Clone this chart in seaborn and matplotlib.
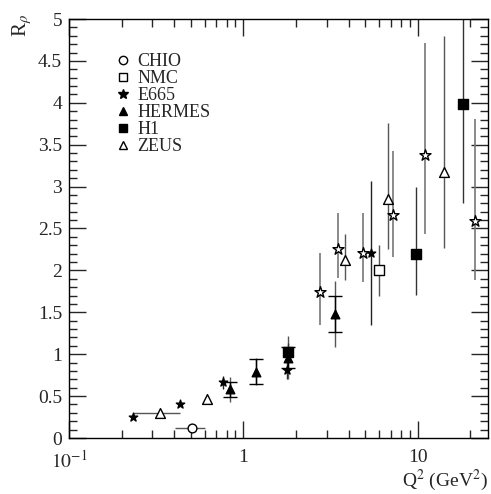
import numpy as np
import pandas as pd
import matplotlib
matplotlib.use("Agg")
import matplotlib.pyplot as plt
import seaborn as sns
from matplotlib.ticker import MultipleLocator, FixedLocator, NullFormatter, FuncFormatter
from matplotlib.lines import Line2D

# ---------------- data ----------------
chio_q2 = [0.505]
chio_r = [0.12]
chio_xlo = [0.405]
chio_xhi = [0.60]

nmc_q2 = [6.01]
nmc_r = [2.00]
nmc_err = [0.30]

e665_q2 = [0.232, 0.43, 0.766, 1.78, 5.39]
e665_r = [0.25, 0.405, 0.665, 0.81, 2.21]
e665_err = [0.0, 0.0, 0.08, 0.11, 0.86]

hermes_q2 = [0.835, 1.18, 1.80, 3.34]
hermes_r = [0.58, 0.79, 0.96, 1.48]
hermes_stat = [0.085, 0.15, 0.12, 0.22]
hermes_tot = [0.145, 0.16, 0.26, 0.39]

h1_q2 = [1.81, 9.74, 18.0]
h1_r = [1.03, 2.20, 3.99]
h1_up = [0.10, 0.79, 1.50]
h1_dn = [0.10, 0.49, 1.19]

zeus_q2 = [0.332, 0.62, 3.83, 6.77, 14.1]
zeus_r = [0.30, 0.46, 2.12, 2.85, 3.17]
zeus_up = [0.0, 0.0, 0.31, 0.91, 1.63]
zeus_dn = [0.0, 0.0, 0.23, 0.59, 0.90]
zeus_xlo = [0.232, 0.62, 3.83, 6.77, 14.1]
zeus_xhi = [0.43, 0.62, 3.83, 6.77, 14.1]

ostar_q2 = [2.75, 3.48, 4.81, 7.2, 10.96, 21.2]
ostar_r = [1.74, 2.25, 2.21, 2.66, 3.38, 2.59]
ostar_up = [0.47, 0.44, 0.48, 0.77, 1.33, 1.22]
ostar_dn = [0.39, 0.34, 0.35, 0.50, 0.94, 0.71]

legend_labels = ["CHIO", "NMC", "E665", "HERMES", "H1", "ZEUS"]
x_major = [0.1, 1, 10]
x_major_labels = [r"$10^{-1}$", "1", "10"]

# ---------------- style ----------------
sns.set_style("ticks")
plt.rcParams["font.family"] = ["Liberation Serif", "DejaVu Serif"]
plt.rcParams["mathtext.fontset"] = "stix"
plt.rcParams["xtick.direction"] = "in"
plt.rcParams["ytick.direction"] = "in"

fig = plt.figure(figsize=(4.91, 4.94), dpi=100)
ax = fig.add_axes([69 / 491, 56 / 494, 419 / 491, 419 / 494])

ecol = "#555555"
elw = 1.0

def arr(v):
    return np.asarray(v, dtype=float)

# error bars
ax.errorbar(chio_q2, chio_r,
            xerr=[arr(chio_q2) - arr(chio_xlo), arr(chio_xhi) - arr(chio_q2)],
            fmt="none", ecolor=ecol, elinewidth=elw, zorder=1)
ax.errorbar(nmc_q2, nmc_r, yerr=nmc_err, fmt="none", ecolor=ecol, elinewidth=elw, zorder=1)
ax.errorbar(e665_q2, e665_r, yerr=e665_err, fmt="none", ecolor="#222222", elinewidth=elw, zorder=1)
ax.errorbar(hermes_q2, hermes_r, yerr=hermes_tot, fmt="none", ecolor=ecol, elinewidth=elw, zorder=1)
ax.errorbar(hermes_q2, hermes_r, yerr=hermes_stat, fmt="none", ecolor="black",
            elinewidth=elw, capsize=5, capthick=1.0, zorder=1)
ax.errorbar(h1_q2, h1_r, yerr=[h1_dn, h1_up], fmt="none", ecolor="#333333", elinewidth=elw, zorder=1)
ax.errorbar(zeus_q2, zeus_r, yerr=[zeus_dn, zeus_up],
            xerr=[arr(zeus_q2) - arr(zeus_xlo), arr(zeus_xhi) - arr(zeus_q2)],
            fmt="none", ecolor=ecol, elinewidth=elw, zorder=1)
ax.errorbar(ostar_q2, ostar_r, yerr=[ostar_dn, ostar_up], fmt="none", ecolor="#777777",
            elinewidth=1.2, zorder=1)

# markers via seaborn
def scat(x, y, marker, face, s):
    df = pd.DataFrame({"Q2": x, "R": y})
    sns.scatterplot(data=df, x="Q2", y="R", ax=ax, marker=marker, s=s,
                    color=face, edgecolor="black", linewidth=1.0, zorder=3, legend=False)

scat(chio_q2, chio_r, "o", "white", 40)
scat(nmc_q2, nmc_r, "s", "white", 45)
scat(ostar_q2, ostar_r, "*", "white", 70)
scat(e665_q2, e665_r, "*", "black", 40)
scat(hermes_q2, hermes_r, "^", "black", 38)
scat(h1_q2, h1_r, "s", "black", 42)
scat(zeus_q2, zeus_r, "^", "white", 50)

# axes
ax.set_xscale("log")
ax.set_xlim(0.1, 25.2)
ax.set_ylim(0, 5)
ax.set_xlabel("")
ax.set_ylabel("")
minor_x = [m * d for d in (0.1, 1, 10) for m in range(2, 10) if m * d < 25.2]
ax.xaxis.set_major_locator(FixedLocator(x_major))
ax.xaxis.set_major_formatter(FuncFormatter(lambda v, p: x_major_labels[x_major.index(v)] if v in x_major else ""))
ax.xaxis.set_minor_locator(FixedLocator(minor_x))
ax.xaxis.set_minor_formatter(NullFormatter())
ax.yaxis.set_major_locator(MultipleLocator(0.5))
ax.yaxis.set_minor_locator(MultipleLocator(0.1))
ax.yaxis.set_major_formatter(FuncFormatter(lambda v, p: f"{v:g}"))
ax.tick_params(which="both", top=True, right=True, direction="in", labelsize=14, width=1.0)
ax.tick_params(which="major", length=12)
ax.tick_params(which="minor", length=6)
ax.tick_params(axis="x", pad=8)
ax.tick_params(axis="y", pad=5)
for sp in ax.spines.values():
    sp.set_linewidth(1.0)
    sp.set_color("black")

fig.text(0.994, 0.002, r"Q$^2$ (GeV$^2$)", ha="right", va="bottom", fontsize=14)
fig.text(0.045, 0.972, r"R$_\rho$", rotation=90, ha="center", va="top", fontsize=15)

# legend
handles = [
    Line2D([], [], ls="none", marker="o", mfc="white", mec="black", ms=6),
    Line2D([], [], ls="none", marker="s", mfc="white", mec="black", ms=6),
    Line2D([], [], ls="none", marker="*", mfc="black", mec="black", ms=7),
    Line2D([], [], ls="none", marker="^", mfc="black", mec="black", ms=6),
    Line2D([], [], ls="none", marker="s", mfc="black", mec="black", ms=6),
    Line2D([], [], ls="none", marker="^", mfc="white", mec="black", ms=6),
]
ax.legend(handles, legend_labels, loc="upper left", bbox_to_anchor=(0.085, 0.94),
          frameon=False, fontsize=13, handletextpad=0.3, labelspacing=0.0,
          handlelength=1.0, borderpad=0)

fig.savefig("out.png", dpi=100)
